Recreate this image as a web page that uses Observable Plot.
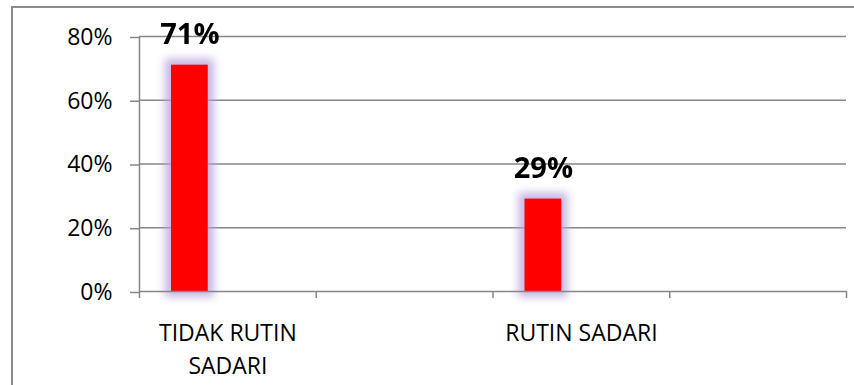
<!DOCTYPE html>
<html><head><meta charset="utf-8">
<script src="https://cdn.jsdelivr.net/npm/d3@7"></script>
<script src="https://cdn.jsdelivr.net/npm/@observablehq/plot@0.6"></script>
<style>
html,body{margin:0;padding:0;background:#fff;}
#wrap{position:relative;width:854px;height:385px;overflow:hidden;}
#frame{position:absolute;left:11px;top:6px;width:900px;height:500px;border-top:2px solid #8c8c8c;border-left:2px solid #8c8c8c;}
#chart svg{position:absolute;left:0;top:0;}
.glow{filter:blur(4px);}
</style></head><body><div id="wrap"><div id="frame"></div><div id="chart"></div></div>
<script>
// Four category slots on the axis; two are empty in the source chart
const categories = ["TIDAK RUTIN SADARI", "", "RUTIN SADARI", ""];
const values = [0.71, null, 0.29, null];
const yTicks = [0, 0.2, 0.4, 0.6, 0.8];

const slotCount = categories.length;
const data = categories
  .map((c, i) => ({category: c, slot: i, value: values[i]}))
  .filter(d => d.value != null);
const pct = d3.format(".0%");
const grey = "#868686";

const chart = Plot.plot({
  width: 854, height: 385,
  marginLeft: 139, marginRight: 8, marginTop: 36, marginBottom: 94,
  x: {domain: [0, slotCount], axis: null},
  y: {domain: [0, 0.8], axis: null},
  style: {fontFamily: "'Open Sans', sans-serif", background: "transparent", color: "black"},
  marks: [
    Plot.ruleY(yTicks.filter(d => d > 0), {stroke: grey, strokeWidth: 1.5}),
    Plot.rectY(data, {x1: "slot", x2: d => d.slot + 1, y: "value", insetLeft: 32, insetRight: 108,
      fill: "#b9a3dd", stroke: "#b9a3dd", strokeWidth: 12, opacity: 0.8, className: "glow"}),
    Plot.rectY(data, {x1: "slot", x2: d => d.slot + 1, y: "value", insetLeft: 32, insetRight: 108, fill: "#ff0000"}),
    Plot.ruleX([0], {stroke: grey, strokeWidth: 1.5}),
    Plot.ruleY([0], {stroke: grey, strokeWidth: 1.5}),
    Plot.axisY({ticks: yTicks, tickFormat: pct, tickSize: 9, tickPadding: 18, fontSize: 23,
      stroke: grey, strokeWidth: 1.5, fill: "black", label: null, dy: 1}),
    Plot.axisX({ticks: d3.range(0, slotCount + 1), tickFormat: () => "", tickSize: 7,
      stroke: grey, strokeWidth: 1.5, label: null}),
    Plot.text(data, {x: d => d.slot + 0.5, y: () => 0, text: "category", lineAnchor: "top",
      dy: 26, fontSize: 23, lineWidth: 8, lineHeight: 1.43, fill: "black"}),
    Plot.text(data, {x: d => d.slot + 0.5, y: "value", text: d => pct(d.value), dx: -38, dy: -30,
      fontSize: 29, fontWeight: "bold", fill: "black"})
  ]
});
document.getElementById("chart").appendChild(chart);
</script>
</body></html>
